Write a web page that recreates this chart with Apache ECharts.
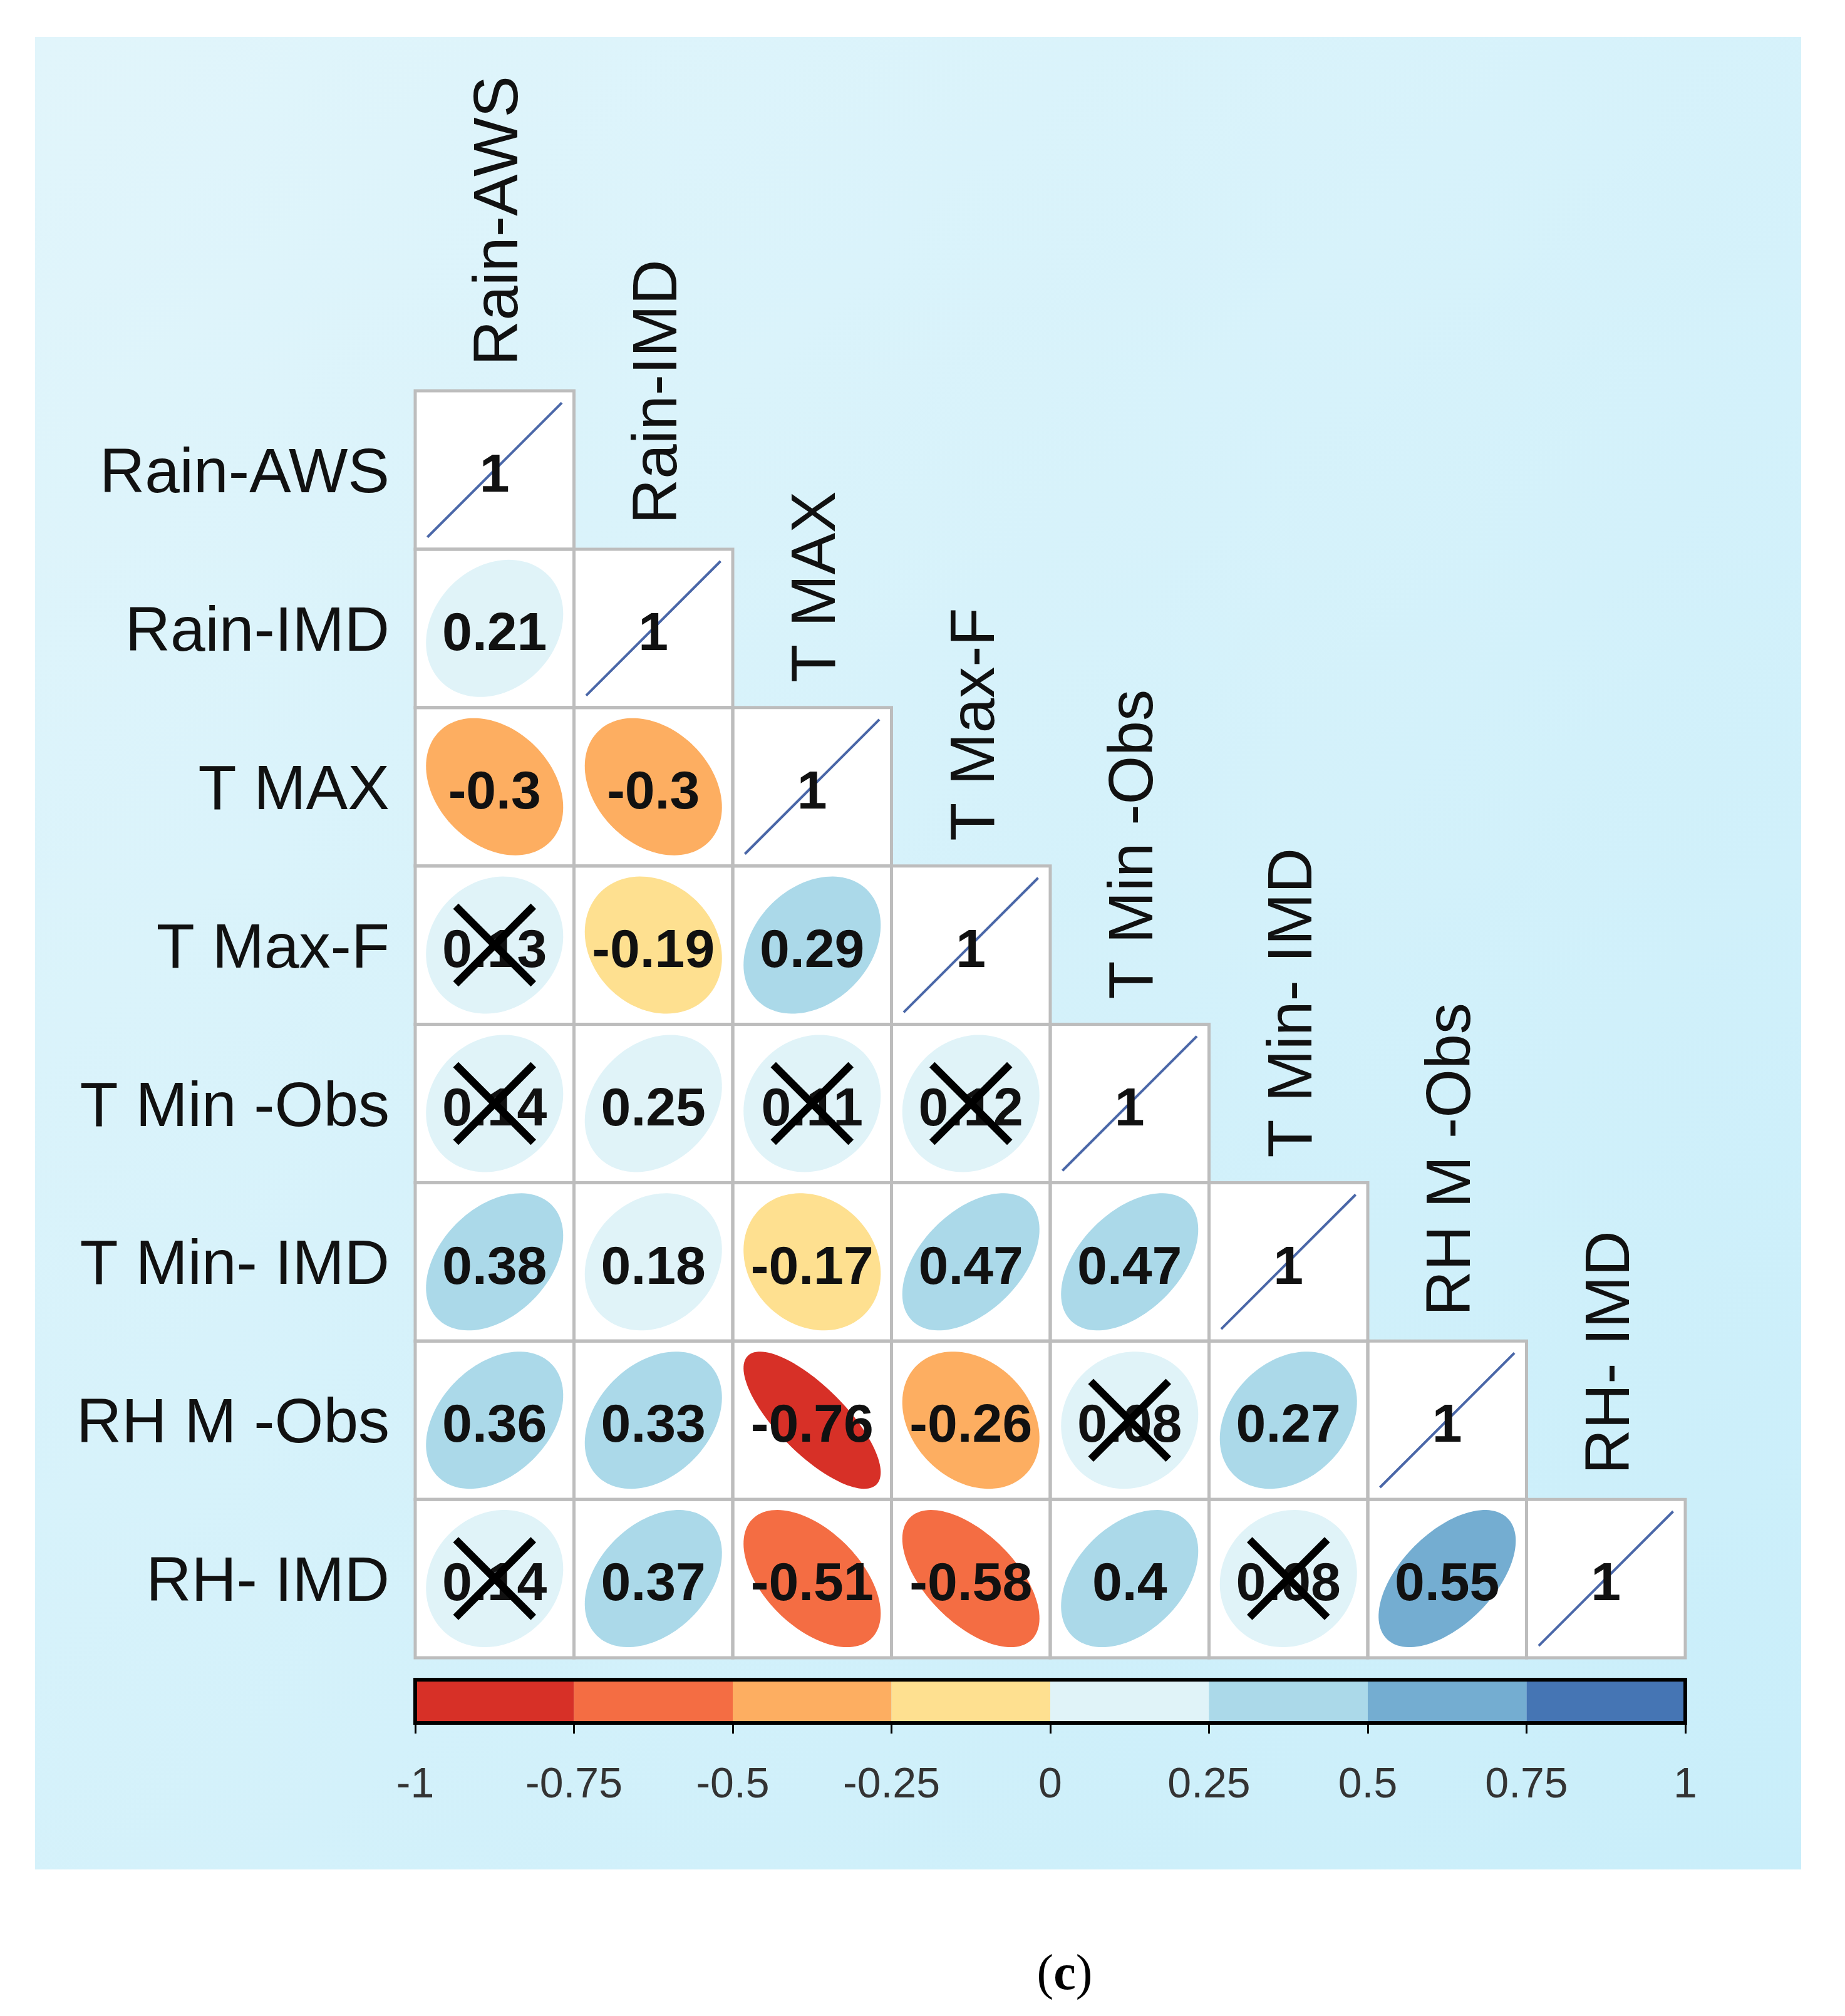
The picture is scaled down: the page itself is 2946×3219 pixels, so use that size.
<!DOCTYPE html>
<html><head><meta charset="utf-8">
<script src="https://cdn.jsdelivr.net/npm/echarts@6/dist/echarts.min.js"></script>
<style>html,body{margin:0;padding:0;background:#fff}#c{width:2946px;height:3219px}</style>
</head><body><div id="c"></div>
<script>
// ---- data ----
const categories = ['Rain-AWS','Rain-IMD','T MAX','T Max-F','T Min -Obs','T Min- IMD','RH M -Obs','RH- IMD'];
// lower triangle (row by row, including diagonal)
const rowRainAWS  = [1];
const rowRainIMD  = [0.21, 1];
const rowTMAX     = [-0.3, -0.3, 1];
const rowTMaxF    = [0.13, -0.19, 0.29, 1];
const rowTMinObs  = [0.14, 0.25, 0.11, 0.12, 1];
const rowTMinIMD  = [0.38, 0.18, -0.17, 0.47, 0.47, 1];
const rowRHMObs   = [0.36, 0.33, -0.76, -0.26, 0.08, 0.27, 1];
const rowRHIMD    = [0.14, 0.37, -0.51, -0.58, 0.4, 0.08, 0.55, 1];
const rows = [rowRainAWS,rowRainIMD,rowTMAX,rowTMaxF,rowTMinObs,rowTMinIMD,rowRHMObs,rowRHIMD];
// non-significant cells [row, col]
const crossedCells = [[3,0],[4,0],[4,2],[4,3],[6,4],[7,0],[7,5]];
// colour legend
const binBreaks = [-1,-0.75,-0.5,-0.25,0,0.25,0.5,0.75,1];
const binColors = ['#d73027','#f46d43','#fdae61','#fee090','#e0f3f8','#abd9e9','#74add1','#4575b4'];

// ---- build ----
const cellData = [];
rows.forEach((vals, r) => vals.forEach((v, c) => {
  const x = crossedCells.some(p => p[0] === r && p[1] === c) ? 1 : 0;
  cellData.push([c, r, v, x]);
}));
function colorFor(v){
  for (let i = 0; i < binColors.length; i++) if (v <= binBreaks[i+1]) return binColors[i];
  return binColors[binColors.length-1];
}
const FONT = 'Liberation Sans, Arial, sans-serif';

const chart = echarts.init(document.getElementById('c'), null, {renderer:'canvas'});
chart.setOption({
  backgroundColor: '#ffffff',
  animation: false,
  graphic: [
    {type:'rect', z:-10, shape:{x:56,y:59,width:2820,height:2926},
     style:{fill:new echarts.graphic.LinearGradient(0,0,1,1,[{offset:0,color:'#e1f5fb'},{offset:1,color:'#c9eefa'}])}},
    {type:'text', x:1700, y:3155, style:{text:'{a|(}{b|c}{a|)}', align:'center', verticalAlign:'middle',
      rich:{a:{fontFamily:'Liberation Serif', fontSize:80, fill:'#000'}, b:{fontFamily:'Liberation Serif', fontSize:80, fontWeight:'bold', fill:'#000'}}}}
  ],
  grid: [
    {left:663, width:2028, top:624, height:2023},
    {left:663, width:2028, top:2682, height:69}
  ],
  xAxis: [
    {type:'category', gridIndex:0, data:categories, show:false},
    {type:'value', gridIndex:1, min:-1, max:1, interval:0.25, position:'bottom',
     axisLine:{show:false}, splitLine:{show:false},
     axisTick:{show:true, length:17, lineStyle:{color:'#000', width:3}},
     axisLabel:{fontSize:68, color:'#333', margin:66, fontFamily:FONT, formatter: v => String(v)}}
  ],
  yAxis: [
    {type:'category', gridIndex:0, data:categories, inverse:true, show:false},
    {type:'value', gridIndex:1, min:0, max:1, show:false}
  ],
  series: [
    { // cells content
      type:'custom', xAxisIndex:0, yAxisIndex:0, silent:true, data:cellData,
      renderItem: (params, api) => {
        const c = api.value(0), r = api.value(1), v = api.value(2), crossed = api.value(3);
        const p = api.coord([c, r]); const s = api.size([1, 1]);
        const w = s[0], h = s[1]; const R = 0.432 * w;
        const children = [{type:'rect', shape:{x:p[0]-w/2, y:p[1]-h/2, width:w, height:h}, style:{fill:'#ffffff'}}];
        if (c === r) {
          children.push({type:'line', shape:{x1:p[0]-R*0.98, y1:p[1]+R*0.98, x2:p[0]+R*0.98, y2:p[1]-R*0.98},
            style:{stroke:'#4a67a8', lineWidth:4}});
        } else {
          const d = Math.acos(v); const pts = [];
          for (let k = 0; k < 120; k++) {
            const t = 2*Math.PI*k/120;
            pts.push([p[0] + R*Math.cos(t + d/2), p[1] - R*Math.cos(t - d/2)]);
          }
          children.push({type:'polygon', shape:{points:pts}, style:{fill:colorFor(v)}});
        }
        children.push({type:'text', x:p[0], y:p[1]+11, style:{text:String(v), fontSize:86, fontWeight:'bold',
          fontFamily:FONT, fill:'#111', align:'center', verticalAlign:'middle'}});
        if (crossed) {
          const q = 62;
          children.push({type:'line', shape:{x1:p[0]-q, y1:p[1]-q, x2:p[0]+q, y2:p[1]+q}, style:{stroke:'#000', lineWidth:12}});
          children.push({type:'line', shape:{x1:p[0]-q, y1:p[1]+q, x2:p[0]+q, y2:p[1]-q}, style:{stroke:'#000', lineWidth:12}});
        }
        return {type:'group', children};
      }
    },
    { // cell borders
      type:'custom', xAxisIndex:0, yAxisIndex:0, silent:true, data:cellData,
      renderItem: (params, api) => {
        const p = api.coord([api.value(0), api.value(1)]); const s = api.size([1, 1]);
        return {type:'rect', shape:{x:p[0]-s[0]/2, y:p[1]-s[1]/2, width:s[0], height:s[1]},
          style:{fill:'none', stroke:'#bdbdbd', lineWidth:5}};
      }
    },
    { // column labels above diagonal
      type:'custom', xAxisIndex:0, yAxisIndex:0, silent:true, data:categories.map((n,i)=>[i,i]),
      renderItem: (params, api) => {
        const i = api.value(0);
        const p = api.coord([i, i]); const s = api.size([1, 1]);
        return {type:'text', x:p[0]+9, y:p[1]-s[1]/2-40, rotation:Math.PI/2,
          style:{text:categories[params.dataIndex], fontSize:100, fontFamily:FONT, fill:'#111', align:'left', verticalAlign:'middle'}};
      }
    },
    { // row labels left of the matrix
      type:'custom', xAxisIndex:0, yAxisIndex:0, silent:true, data:categories.map((n,i)=>[0,i]),
      renderItem: (params, api) => {
        const p = api.coord([0, api.value(1)]); const s = api.size([1, 1]);
        return {type:'text', x:p[0]-s[0]/2-41, y:p[1]+8,
          style:{text:categories[params.dataIndex], fontSize:100, fontFamily:FONT, fill:'#111', align:'right', verticalAlign:'middle'}};
      }
    },
    { // colour bar segments
      type:'custom', xAxisIndex:1, yAxisIndex:1, silent:true,
      data: binColors.map((col,i)=>[binBreaks[i], binBreaks[i+1], i]),
      renderItem: (params, api) => {
        const a = api.coord([api.value(0), 1]); const b = api.coord([api.value(1), 0]);
        return {type:'rect', shape:{x:a[0], y:a[1], width:b[0]-a[0], height:b[1]-a[1]},
          style:{fill:binColors[api.value(2)]}};
      }
    },
    { // colour bar frame
      type:'custom', xAxisIndex:1, yAxisIndex:1, silent:true,
      data: [[binBreaks[0], binBreaks[binBreaks.length-1]]],
      renderItem: (params, api) => {
        const a = api.coord([api.value(0), 1]); const b = api.coord([api.value(1), 0]);
        return {type:'rect', shape:{x:a[0], y:a[1], width:b[0]-a[0], height:b[1]-a[1]},
          style:{fill:'none', stroke:'#000', lineWidth:6}};
      }
    }
  ]
});
</script></body></html>
